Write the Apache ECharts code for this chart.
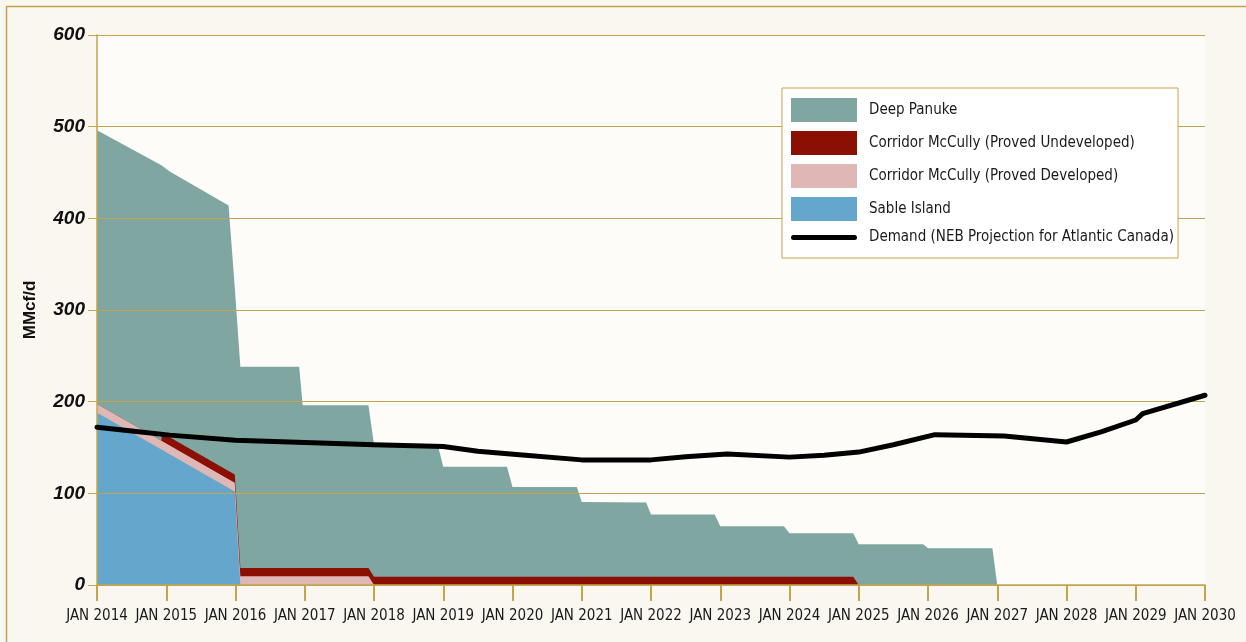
<!DOCTYPE html>
<html>
<head>
<meta charset="utf-8">
<script src="https://cdn.jsdelivr.net/npm/echarts@6.0.0/dist/echarts.min.js"></script>
<style>
html,body{margin:0;padding:0;background:#f9f7f0;}
#chart{width:1246px;height:642px;}
</style>
</head>
<body>
<div id="chart"></div>
<script>
// ---- Data ----
const years = [2014.0, 2014.93, 2014.94, 2015.05, 2015.9, 2015.99, 2016.07, 2016.92, 2016.97, 2017.92,
  2018.0, 2018.92, 2019.0, 2019.92, 2020.0, 2020.93, 2021.0, 2021.93, 2022.0, 2022.92,
  2023.0, 2023.92, 2024.0, 2024.92, 2025.0, 2025.93, 2026.0, 2026.93, 2027.0];

const sableIsland = [188, 147.8, 147.4, 142.6, 105.9, 102, 0, 0, 0, 0,
  0, 0, 0, 0, 0, 0, 0, 0, 0, 0,
  0, 0, 0, 0, 0, 0, 0, 0, 0];

const mccullyDeveloped = [9.5, 9.5, 9.5, 9.5, 9.5, 9.5, 9.5, 9.5, 9.5, 9.5,
  0, 0, 0, 0, 0, 0, 0, 0, 0, 0,
  0, 0, 0, 0, 0, 0, 0, 0, 0];

const mccullyUndeveloped = [0, 0, 9, 9, 9, 9, 9, 9, 9, 9,
  9, 9, 9, 9, 9, 9, 9, 9, 9, 9,
  9, 9, 9, 9, 0, 0, 0, 0, 0];

const deepPanuke = [298.5, 300.7, 292.1, 289.9, 289.6, 203.5, 219.5, 219.5, 177.5, 177.5,
  144, 144, 120, 120, 98, 98, 81.5, 81, 68, 68,
  55, 55, 47.5, 47.5, 44.5, 44.5, 40, 40, 0];

const demandYears = [2014.0, 2014.5, 2015.05, 2016.0, 2017.0, 2018.0, 2019.0, 2019.5, 2020.1, 2021.0,
  2022.0, 2022.5, 2023.1, 2024.0, 2024.5, 2025.0, 2025.5, 2026.1, 2027.1, 2028.0,
  2028.5, 2029.0, 2029.1, 2030.0];
const demand = [172, 168, 163.5, 158, 155.5, 153, 151, 146, 142, 136.5,
  136.5, 140, 143, 139.5, 141.5, 145, 153, 164, 162.5, 156,
  167, 180, 187, 207];

const seriesNames = ['Deep Panuke', 'Corridor McCully (Proved Undeveloped)', 'Corridor McCully (Proved Developed)', 'Sable Island', 'Demand (NEB Projection for Atlantic Canada)'];
const yTicks = [0, 100, 200, 300, 400, 500, 600];
const xLabelPrefix = 'JAN ';

// ---- Styles ----
const gold = '#c4a44c';
const narrow = "'Liberation Sans Narrow','DejaVu Sans Condensed','Roboto',sans-serif";
const colors = { dp: '#7fa6a0', und: '#8b0f03', dev: '#dfb8b6', sable: '#65a6cc' };

// cumulative stack (bottom to top): Sable, Developed, Undeveloped, Deep Panuke
const layers = [sableIsland, mccullyDeveloped, mccullyUndeveloped, deepPanuke];
const cumulative = [];
layers.forEach((arr, k) => {
  cumulative.push(arr.map((v, i) => v + (k > 0 ? cumulative[k - 1][i] : 0)));
});

function pairs(xs, ys) { return xs.map((x, i) => [x, ys[i]]); }

function areaSeries(name, values, color) {
  return {
    name: name,
    type: 'line',
    data: pairs(years, values),
    symbol: 'none',
    showSymbol: false,
    color: color,
    itemStyle: { color: color },
    lineStyle: { width: 0, color: color },
    areaStyle: { color: color, opacity: 1, origin: 'start' },
    z: 1,
    silent: true
  };
}

const chart = echarts.init(document.getElementById('chart'), null, { renderer: 'canvas' });

const option = {
  animation: false,
  backgroundColor: '#f9f7f0',
  textStyle: { fontFamily: narrow },
  grid: { left: 97, right: 41, top: 35, bottom: 57, show: true, backgroundColor: '#fdfcf8', borderWidth: 0 },
  xAxis: {
    type: 'value',
    min: 2014, max: 2030, interval: 1,
    z: 3,
    axisLine: { show: true, lineStyle: { color: gold, width: 1.5 } },
    axisTick: { show: true, length: 16, lineStyle: { color: gold, width: 2 } },
    splitLine: { show: false },
    axisLabel: {
      margin: 24,
      interval: 0,
      hideOverlap: false,
      showMinLabel: true, showMaxLabel: true,
      formatter: v => xLabelPrefix + Math.round(v),
      fontFamily: narrow, fontSize: 15, color: '#1a1a1a'
    }
  },
  yAxis: {
    type: 'value',
    min: yTicks[0], max: yTicks[yTicks.length - 1], interval: 100,
    z: 3,
    name: 'MMcf/d',
    nameLocation: 'middle',
    nameGap: 58,
    nameRotate: 90,
    nameTextStyle: { fontFamily: "'Liberation Sans','DejaVu Sans',sans-serif", fontWeight: 'bold', fontSize: 17, color: '#111' },
    axisLine: { show: true, lineStyle: { color: gold, width: 1.5 } },
    axisTick: { show: true, length: 9, lineStyle: { color: gold, width: 1 } },
    splitLine: { show: true, lineStyle: { color: gold, width: 1 } },
    axisLabel: {
      margin: 12,
      fontFamily: "'Liberation Sans Narrow','Liberation Sans',sans-serif",
      fontStyle: 'italic', fontWeight: 'bold', fontSize: 19, color: '#111'
    }
  },
  legend: {
    orient: 'vertical',
    left: 791, top: 98,
    padding: 0,
    itemWidth: 66, itemHeight: 24, itemGap: 9,
    z: 7,
    selectedMode: false,
    textStyle: { fontFamily: narrow, fontSize: 15, color: '#1a1a1a', padding: [0, 0, 0, 7] },
    itemStyle: { borderWidth: 0 },
    data: [
      { name: seriesNames[0], icon: 'rect', itemStyle: { color: colors.dp } },
      { name: seriesNames[1], icon: 'rect', itemStyle: { color: colors.und } },
      { name: seriesNames[2], icon: 'rect', itemStyle: { color: colors.dev } },
      { name: seriesNames[3], icon: 'rect', itemStyle: { color: colors.sable } },
      { name: seriesNames[4], icon: 'path://M2.5,0 L63.5,0 A2.5,2.5 0 0 1 63.5,5 L2.5,5 A2.5,2.5 0 0 1 2.5,0 Z', itemStyle: { color: '#000' } }
    ]
  },
  graphic: [
    { type: 'rect', z: 6, shape: { x: 782, y: 88, width: 396, height: 170 }, style: { fill: '#ffffff', stroke: gold, lineWidth: 1 } },
    { type: 'rect', z: 10, silent: true, shape: { x: 6.5, y: 6.5, width: 1260, height: 660 }, style: { fill: 'none', stroke: gold, lineWidth: 1.5 } }
  ],
  series: [
    areaSeries(seriesNames[0], cumulative[3], colors.dp),
    areaSeries(seriesNames[1], cumulative[2], colors.und),
    areaSeries(seriesNames[2], cumulative[1], colors.dev),
    areaSeries(seriesNames[3], cumulative[0], colors.sable),
    {
      name: seriesNames[4],
      type: 'line',
      data: pairs(demandYears, demand),
      symbol: 'none',
      showSymbol: false,
      color: '#000',
      itemStyle: { color: '#000' },
      lineStyle: { width: 5, color: '#000', cap: 'round', join: 'round' },
      z: 5,
      silent: true
    }
  ]
};
chart.setOption(option);
</script>
</body>
</html>
